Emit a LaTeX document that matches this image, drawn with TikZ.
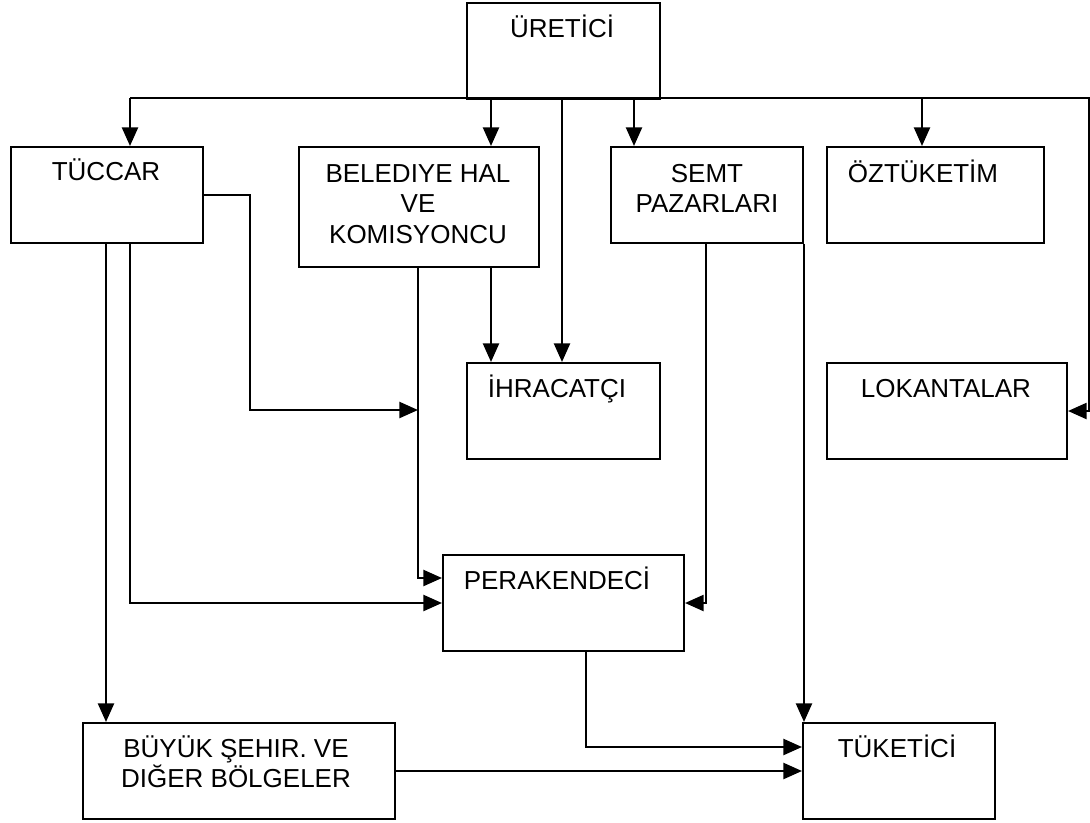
\documentclass[tikz,border=0pt]{standalone}
\usepackage{fontspec}
\setmainfont{Liberation Sans}
\usetikzlibrary{arrows.meta}
\tikzset{
  box/.style={draw, line width=1.5pt, rectangle, inner sep=0pt},
  txt/.style={anchor=base, inner sep=0pt, font=\fontsize{19.5}{22.5}\selectfont},
  arr/.style={line width=1.8pt, -{Triangle[length=14pt, width=12pt]}},
}
\newcommand{\mkbox}[5]{% name, x1, y1, x2, y2
  \node[box, anchor=north west, minimum width={(#4-#2)*0.75pt}, minimum height={(#5-#3)*0.75pt}] (#1) at (#2,#3) {};}
\begin{document}
\begin{tikzpicture}[x=0.75pt, y=-0.75pt]
\useasboundingbox (0,0) rectangle (1090,822);
% boxes
\mkbox{uretici}{466}{2}{659}{98}
\mkbox{tuccar}{10}{146}{202}{242}
\mkbox{bel}{298}{146}{538}{266}
\mkbox{semt}{610}{146}{802}{242}
\mkbox{ozt}{826}{146}{1043}{242}
\mkbox{ihr}{466}{362}{659}{458}
\mkbox{lok}{826}{362}{1066}{458}
\mkbox{per}{442}{554}{683}{650}
\mkbox{buyuk}{82}{722}{394}{818}
\mkbox{tuk}{802}{722}{994}{818}
% texts
\node[txt] (t-uretici) at (562,37) {ÜRETİCİ};
\node[txt] (t-tuccar) at (106,180) {TÜCCAR};
\node[txt] (t-bel1) at (418,182) {BELEDIYE HAL};
\node[txt] (t-bel2) at (418,212) {VE};
\node[txt] (t-bel3) at (418,243) {KOMISYONCU};
\node[txt] (t-semt1) at (707,182) {SEMT};
\node[txt] (t-semt2) at (707,212) {PAZARLARI};
\node[txt] (t-ozt) at (923,182) {ÖZTÜKETİM};
\node[txt] (t-ihr) at (557,397) {İHRACATÇI};
\node[txt] (t-lok) at (946,397) {LOKANTALAR};
\node[txt] (t-per) at (557,589) {PERAKENDECİ};
\node[txt] (t-buy1) at (236,757) {BÜYÜK ŞEHIR. VE};
\node[txt] (t-buy2) at (236,787) {DIĞER BÖLGELER};
\node[txt] (t-tuk) at (897,757) {TÜKETİCİ};
% bus coordinates
\coordinate (bL) at (130,98);
\coordinate (bR) at (1089,98);
\coordinate (b2) at (491,98);
\coordinate (b3) at (562,98);
\coordinate (b4) at (634,98);
\coordinate (b5) at (922,98);
% bus line and arrows from ÜRETİCİ
\draw[arr] (bL) -- (bR) |- (lok.east);
\draw[arr] (bL) -- (bL |- tuccar.north);
\draw[arr] (b2) -- (b2 |- bel.north);
\draw[arr] (b3) -- (b3 |- ihr.north);
\draw[arr] (b4) -- (b4 |- semt.north);
\draw[arr] (b5) -- (b5 |- ozt.north);
% BELEDİYE -> İHRACATÇI
\draw[arr] (b2 |- bel.south) -- (b2 |- ihr.north);
% TÜCCAR right -> belediye line
\coordinate (tc1) at (250,194);
\coordinate (bl1) at (418,410);
\draw[arr] (tuccar.east) -- (tuccar.east -| tc1) |- (bl1);
% BELEDİYE -> PERAKENDECİ
\coordinate (bl0) at (418,266);
\coordinate (pw1) at (442,578);
\draw[arr] (bl0) |- (pw1);
% TÜCCAR -> PERAKENDECİ
\coordinate (tc2) at (130,242);
\draw[arr] (tc2) |- (per.west);
% TÜCCAR -> BÜYÜK
\coordinate (tc3) at (106,242);
\draw[arr] (tc3) -- (tc3 |- buyuk.north);
% SEMT -> PERAKENDECİ
\coordinate (s1) at (706,242);
\draw[arr] (s1) |- (per.east);
% SEMT -> TÜKETİCİ
\draw[arr] (semt.south east) -- (semt.south east |- tuk.north);
% PERAKENDECİ -> TÜKETİCİ
\coordinate (p1) at (586,650);
\coordinate (tw1) at (802,747);
\draw[arr] (p1) |- (tw1);
% BÜYÜK -> TÜKETİCİ
\draw[arr] (buyuk.east) -- (tuk.west);
\end{tikzpicture}
\end{document}
